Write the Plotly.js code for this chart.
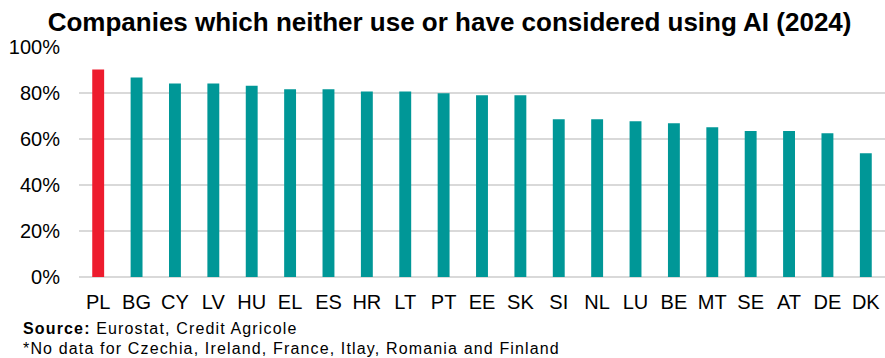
<!DOCTYPE html>
<html>
<head>
<meta charset="utf-8">
<script src="https://cdn.plot.ly/plotly-3.0.1.min.js"></script>
<style>html,body{margin:0;padding:0;background:#fff;}#chart{width:885px;height:358px;}</style>
</head>
<body>
<div id="chart"></div>
<script>
const countries = ["PL","BG","CY","LV","HU","EL","ES","HR","LT","PT","EE","SK","SI","NL","LU","BE","MT","SE","AT","DE","DK"];
const values = [90.2, 86.7, 84.1, 84.1, 83.2, 81.6, 81.6, 80.7, 80.7, 79.9, 79.0, 79.0, 68.6, 68.6, 67.7, 66.8, 65.1, 63.5, 63.5, 62.5, 53.8];
const highlight = "PL";
const yTicks = [0, 20, 40, 60, 80, 100];
const titleText = "Companies which neither use or have considered using AI (2024)";
const sourceLabel = "Source:";
const sourceText = "Eurostat, Credit Agricole";
const noteText = "*No data for Czechia, Ireland, France, Itlay, Romania and Finland";

const colors = countries.map(c => c === highlight ? "#ED1C2E" : "#009797");

const trace = {
  type: "bar",
  x: countries,
  y: values,
  marker: {color: colors, line: {width: 0}},
  hoverinfo: "x+y"
};

const font = "Arial, 'Liberation Sans', sans-serif";
const sp = "letter-spacing:1.15px";
const layout = {
  width: 885, height: 358,
  margin: {l: 79, r: 0, t: 47, b: 81},
  paper_bgcolor: "#ffffff",
  plot_bgcolor: "#ffffff",
  showlegend: false,
  bargap: 0.69,
  font: {family: font, color: "#000000", size: 20},
  title: {
    text: "<b>" + titleText + "</b>",
    font: {family: font, size: 26, color: "#000000"},
    x: 0.508, xanchor: "center", xref: "container",
    y: 0.94, yanchor: "middle", yref: "container"
  },
  xaxis: {
    type: "category",
    showgrid: false,
    showline: false,
    zeroline: false,
    ticks: "",
    ticklabelstandoff: 11,
    tickfont: {family: font, size: 20, color: "#000000"}
  },
  yaxis: {
    range: [0, 100],
    tickvals: yTicks,
    ticktext: yTicks.map(v => v + "%"),
    showgrid: true,
    gridcolor: "#D9D9D9",
    gridwidth: 1.5,
    zeroline: true,
    zerolinecolor: "#D9D9D9",
    zerolinewidth: 1.5,
    showline: false,
    ticks: "",
    ticklabelstandoff: 18,
    tickfont: {family: font, size: 20, color: "#000000"}
  },
  annotations: [
    {text: "<span style='" + sp + "'><b>" + sourceLabel + "</b> " + sourceText + "</span>",
     xref: "paper", yref: "paper", x: -0.072, y: -0.224,
     xanchor: "left", yanchor: "middle", showarrow: false,
     font: {family: font, size: 16, color: "#000000"}},
    {text: "<span style='" + sp + "'>" + noteText + "</span>",
     xref: "paper", yref: "paper", x: -0.072, y: -0.309,
     xanchor: "left", yanchor: "middle", showarrow: false,
     font: {family: font, size: 16, color: "#000000"}}
  ]
};

Plotly.newPlot("chart", [trace], layout, {displayModeBar: false, staticPlot: true});
</script>
</body>
</html>
